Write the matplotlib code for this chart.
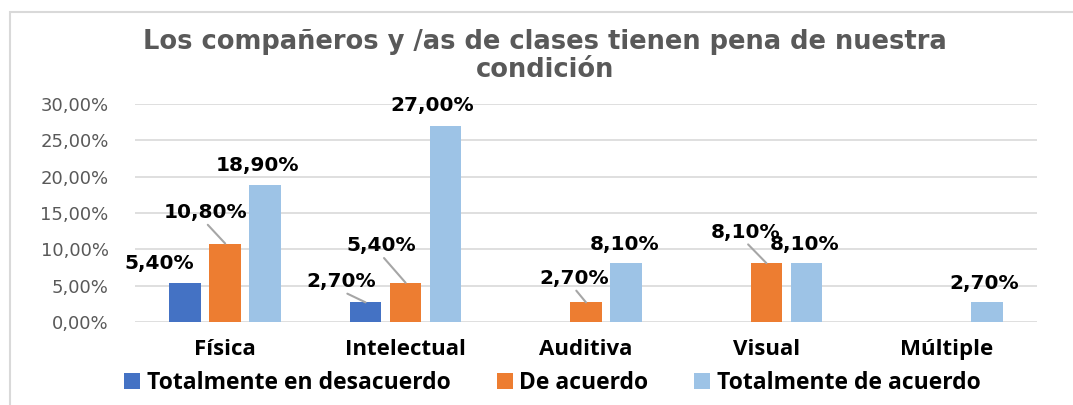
import numpy as np
import matplotlib
matplotlib.use("Agg")
import matplotlib.pyplot as plt
from matplotlib.patches import Rectangle, Patch
from matplotlib.ticker import FuncFormatter

# datos ------------------------------------------------------------------
categorias = ["Física", "Intelectual", "Auditiva", "Visual", "Múltiple"]
series = ["Totalmente en desacuerdo", "De acuerdo", "Totalmente de acuerdo"]
desacuerdo = [5.40, 2.70, None, None, None]
de_acuerdo = [10.80, 5.40, 2.70, 8.10, None]
tot_acuerdo = [18.90, 27.00, 8.10, 8.10, 2.70]
y_ticks = [0, 5, 10, 15, 20, 25, 30]

colores = ["#4472C4", "#ED7D31", "#9DC3E6"]
titulo = "Los compañeros y /as de clases tienen pena de nuestra\ncondición"

# desplazamiento de etiquetas (px) y si llevan línea guía
# clave: (serie, categoría)
etiqueta_off = {
    (0, 0): (-26, 19, False), (1, 0): (-20, 31, True), (2, 0): (-8, 19, False),
    (0, 1): (-24, 21, True), (1, 1): (-24, 37, True), (2, 1): (-13, 20, False),
    (1, 2): (-12, 24, True), (2, 2): (-1, 19, False),
    (1, 3): (-21, 31, True), (2, 3): (-2, 19, False),
    (2, 4): (-3, 19, False),
}

# figura -----------------------------------------------------------------
fig = plt.figure(figsize=(10.73, 4.05), dpi=100)
ax = fig.add_axes([135 / 1073, 1 - 322 / 405, (1037 - 135) / 1073, (322 - 104) / 405])

# marco del gráfico
fig.patches.append(Rectangle((10 / 1073, -0.1), 1.2, 1 - 12 / 405 + 0.1,
                             transform=fig.transFigure, fill=False,
                             edgecolor="#d9d9d9", lw=1.5))

x = np.arange(len(categorias))
ancho = 0.175
paso = 0.222
datos = [desacuerdo, de_acuerdo, tot_acuerdo]

for i, (vals, col) in enumerate(zip(datos, colores)):
    for j, v in enumerate(vals):
        if v is None:
            continue
        xc = x[j] + (i - 1) * paso
        ax.bar(xc, v, width=ancho, color=col, zorder=3)
        dx, dy, guia = etiqueta_off[(i, j)]
        txt = f"{v:.2f}%".replace(".", ",")
        kw = {}
        if guia:
            kw["arrowprops"] = dict(arrowstyle="-", color="#a6a6a6", lw=1.5,
                                    shrinkA=0, shrinkB=0, relpos=(0.5, 0))
        ax.annotate(txt, xy=(xc, v), xytext=(dx, dy), textcoords="offset pixels",
                    ha="center", va="center", fontsize=14.5, fontweight="bold",
                    family="DejaVu Sans", color="black", zorder=5, **kw)

ax.set_xlim(-0.5, len(categorias) - 0.5)
ax.set_ylim(0, 30)
ax.set_yticks(y_ticks)
ax.yaxis.set_major_formatter(FuncFormatter(lambda v, p: f"{v:.2f}%".replace(".", ",")))
ax.set_xticks(x)
ax.set_xticklabels(categorias, fontsize=16, fontweight="bold", family="Open Sans")
ax.tick_params(axis="x", length=0, pad=12)
ax.tick_params(axis="y", length=0, pad=19, labelsize=13, labelcolor="#595959")
for s in ax.spines.values():
    s.set_visible(False)
ax.grid(axis="y", color="#d9d9d9", lw=1.2, zorder=0)
ax.set_axisbelow(True)

fig.text(0.508, 1 - 56 / 405, titulo, ha="center", va="center", fontsize=18.5,
         fontweight="bold", color="#595959", family="DejaVu Sans", linespacing=1.1)

handles = [Patch(facecolor=c, edgecolor="none") for c in colores]
fig.legend(handles, series, loc="center", bbox_to_anchor=(0.515, 1 - 383 / 405),
           ncol=3, frameon=False, handlelength=0.7, handleheight=0.7,
           handletextpad=0.3, columnspacing=2.0,
           prop={"family": "Open Sans", "weight": "bold", "size": 16.5})

fig.savefig("out.png", dpi=100)
